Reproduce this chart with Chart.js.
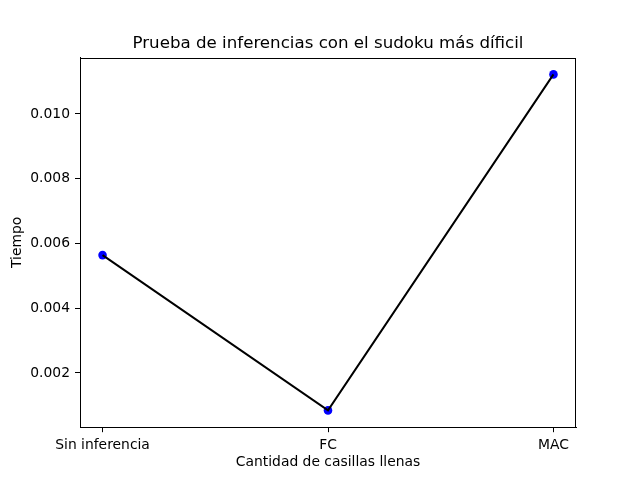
<!DOCTYPE html>
<html>
<head>
<meta charset="utf-8">
<script src="https://cdn.jsdelivr.net/npm/chart.js@4/dist/chart.umd.min.js"></script>
<style>
html,body{margin:0;padding:0;background:#fff;}
#wrap{width:640px;height:480px;}
</style>
</head>
<body>
<div id="wrap"><canvas id="c" width="640" height="480"></canvas></div>
<script>
const categories = ["Sin inferencia", "FC", "MAC"];
const tiempos = [0.00564, 0.000845, 0.01122];
const yTicks = [0.002, 0.004, 0.006, 0.008, 0.010];
const titleText = "Prueba de inferencias con el sudoku más díficil";
const xLabel = "Cantidad de casillas llenas";
const yLabel = "Tiempo";

const pts = categories.map((c, i) => ({x: i, y: tiempos[i]}));
const yMinD = Math.min(...tiempos), yMaxD = Math.max(...tiempos);
const yMargin = (yMaxD - yMinD) * 0.05;
const xMargin = (categories.length - 1) * 0.05;

const FONT = "'DejaVu Sans', sans-serif";
Chart.defaults.font.family = FONT;
Chart.defaults.color = '#000';

const frame = {
  id: 'frame',
  afterDatasetsDraw(chart) {
    const a = chart.chartArea, ctx = chart.ctx;
    ctx.save();
    ctx.strokeStyle = '#000';
    ctx.lineWidth = 1;
    ctx.strokeRect(Math.round(a.left) + 0.5, Math.round(a.top) + 0.5,
                   Math.round(a.right - a.left) - 1, Math.round(a.bottom - a.top) - 1);
    ctx.restore();
  }
};

new Chart(document.getElementById('c'), {
  type: 'scatter',
  data: {
    datasets: [
      {
        type: 'line',
        data: pts,
        borderColor: '#000',
        borderWidth: 2,
        pointRadius: 0,
        fill: false,
        tension: 0
      },
      {
        type: 'scatter',
        data: pts,
        backgroundColor: '#0000ff',
        borderColor: '#0000ff',
        borderWidth: 0,
        pointRadius: 4.3
      }
    ]
  },
  options: {
    responsive: false,
    animation: false,
    events: [],
    layout: {padding: {left: 0, right: 64, top: 0, bottom: 0}},
    plugins: {
      legend: {display: false},
      tooltip: {enabled: false},
      title: {
        display: true,
        fullSize: false,
        text: titleText,
        color: '#000',
        font: {family: FONT, size: 16.67, weight: 'normal', lineHeight: 1.2},
        padding: {top: 33.5, bottom: 4.1}
      }
    },
    scales: {
      x: {
        type: 'linear',
        min: -xMargin,
        max: categories.length - 1 + xMargin,
        afterBuildTicks: s => { s.ticks = categories.map((c, i) => ({value: i})); },
        afterFit: s => { s.height = 52.8; },
        ticks: {
          autoSkip: false,
          maxRotation: 0,
          padding: 5,
          color: '#000',
          font: {family: FONT, size: 13.89},
          callback: v => categories[v] !== undefined ? categories[v] : ''
        },
        grid: {drawOnChartArea: false, tickLength: 5, tickColor: '#000', tickWidth: 1},
        border: {display: true, color: '#000', width: 1},
        title: {
          display: true, text: xLabel, color: '#000',
          font: {family: FONT, size: 13.89, lineHeight: 1.2},
          padding: {top: 0, bottom: 9.7}
        }
      },
      y: {
        type: 'linear',
        min: yMinD - yMargin,
        max: yMaxD + yMargin,
        afterBuildTicks: s => { s.ticks = yTicks.map(v => ({value: v})); },
        afterFit: s => { s.width = 80; },
        ticks: {
          padding: 5,
          color: '#000',
          font: {family: FONT, size: 13.89},
          callback: v => Number(v).toFixed(3)
        },
        grid: {drawOnChartArea: false, tickLength: 5, tickColor: '#000', tickWidth: 1},
        border: {display: true, color: '#000', width: 1},
        title: {
          display: true, text: yLabel, color: '#000',
          font: {family: FONT, size: 13.89, lineHeight: 1.2},
          padding: {top: 8.7, bottom: 0}
        }
      }
    }
  },
  plugins: [frame]
});
</script>
</body>
</html>
